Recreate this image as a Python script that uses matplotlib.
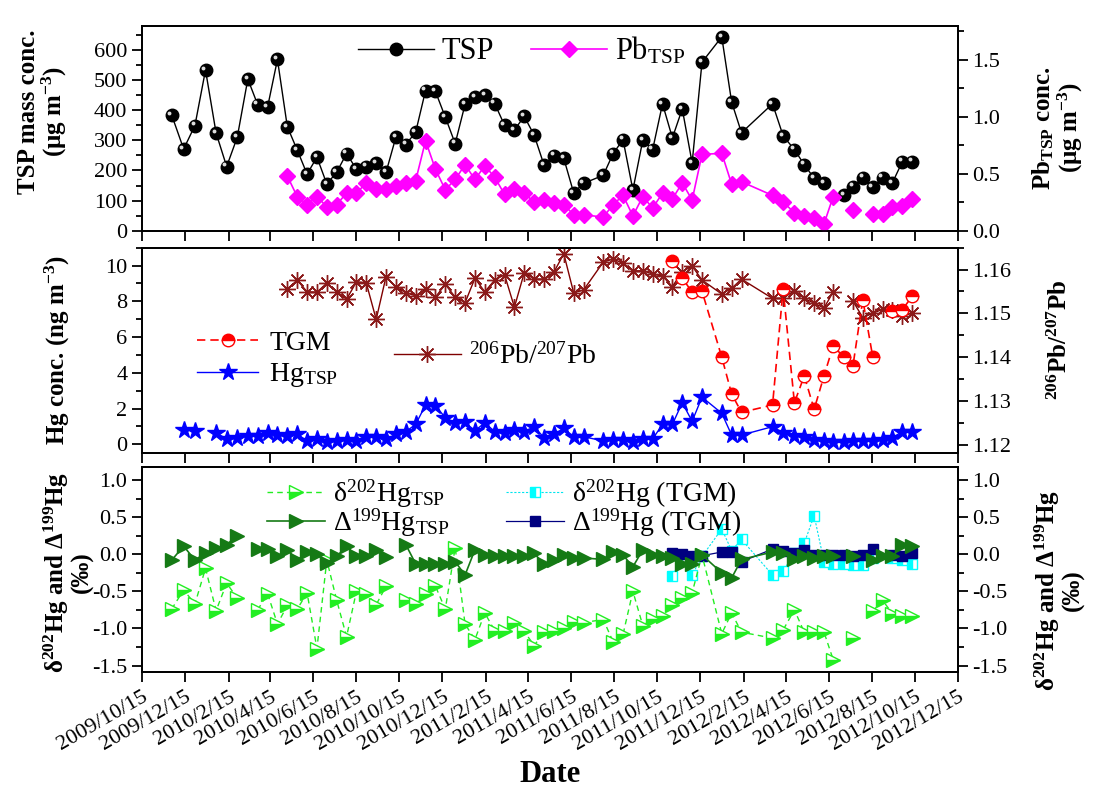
import matplotlib
matplotlib.use('Agg')
import matplotlib.pyplot as plt
import matplotlib.dates as mdates
from matplotlib.ticker import MultipleLocator, FormatStrFormatter, FuncFormatter
from matplotlib.transforms import ScaledTranslation
import numpy as np
import pandas as pd

nan = np.nan

# TSP sampling dates (all TSP-based series share them)
sample_dates = ['2009-11-26', '2009-12-13', '2009-12-29', '2010-01-13', '2010-01-28', '2010-02-12', '2010-02-27',
                '2010-03-14', '2010-03-28', '2010-04-11', '2010-04-25', '2010-05-09', '2010-05-23', '2010-06-06',
                '2010-06-20', '2010-07-04', '2010-07-18', '2010-08-01', '2010-08-15', '2010-08-29', '2010-09-12',
                '2010-09-26', '2010-10-10', '2010-10-24', '2010-11-07', '2010-11-21', '2010-12-05', '2010-12-19',
                '2011-01-02', '2011-01-16', '2011-01-30', '2011-02-13', '2011-02-27', '2011-03-13', '2011-03-27',
                '2011-04-10', '2011-04-24', '2011-05-08', '2011-05-22', '2011-06-05', '2011-06-19', '2011-07-03',
                '2011-07-31', '2011-08-14', '2011-08-28', '2011-09-11', '2011-09-25', '2011-10-09', '2011-10-23',
                '2011-11-06', '2011-11-20', '2011-12-04', '2011-12-18', '2012-01-15', '2012-01-29', '2012-02-12',
                '2012-03-27', '2012-04-11', '2012-04-27', '2012-05-11', '2012-05-25', '2012-06-08', '2012-06-21',
                '2012-07-06', '2012-07-19', '2012-08-02', '2012-08-16', '2012-08-30', '2012-09-13', '2012-09-27',
                '2012-10-11']

tsp = [384, 271, 349, 533, 324, 213, 310, 503, 418, 410,
       568, 345, 268, 188, 244, 155, 194, 256, 204, 213,
       224, 194, 311, 286, 327, 465, 462, 377, 289, 419,
       444, 449, 422, 350, 335, 379, 317, 218, 249, 240,
       126, 157, 184, 256, 302, 135, 300, 269, 421, 308,
       404, 225, 559, 643, 427, 325, 421, 315, 269, 219,
       174, 158, nan, 117, 146, 176, 144, 176, 159, 229,
       229]

pb_tsp = [nan, nan, nan, nan, nan, nan, nan, nan, nan, nan,
          nan, 0.48, 0.30, 0.23, 0.30, 0.21, 0.23, 0.33, 0.33, 0.42,
          0.37, 0.37, 0.39, 0.42, 0.44, 0.79, 0.54, 0.36, 0.45, 0.58,
          0.45, 0.57, 0.47, 0.32, 0.37, 0.33, 0.25, 0.27, 0.24, 0.23,
          0.14, 0.14, 0.12, 0.23, 0.31, 0.13, 0.30, 0.20, 0.33, 0.28,
          0.42, 0.27, 0.67, 0.68, 0.41, 0.43, 0.31, 0.25, 0.16, 0.13,
          0.11, 0.06, 0.30, nan, 0.18, nan, 0.15, 0.15, 0.21, 0.22,
          0.28]

hg_tsp = [nan, 0.80, 0.76, nan, 0.65, 0.30, 0.37, 0.47, 0.47, 0.65,
          0.52, 0.48, 0.58, 0.19, 0.28, 0.11, 0.19, 0.24, 0.19, 0.43,
          0.39, 0.30, 0.56, 0.71, 1.12, 2.20, 2.17, 1.49, 1.21, 1.23,
          0.76, 1.21, 0.71, 0.62, 0.80, 0.71, 0.99, 0.37, 0.56, 0.90,
          0.43, 0.43, 0.19, 0.24, 0.24, 0.15, 0.30, 0.30, 1.12, 1.12,
          2.33, 1.29, 2.64, 1.74, 0.52, 0.52, 0.99, 0.65, 0.47, 0.43,
          0.24, 0.19, 0.11, 0.11, 0.19, 0.20, 0.20, 0.24, 0.37, 0.71,
          0.67]

pb_ratio = [nan, nan, nan, nan, nan, nan, nan, nan, nan, nan,
            nan, 1.1555, 1.1576, 1.1549, 1.1548, 1.1569, 1.1549, 1.1532, 1.1572, 1.1569,
            1.1486, 1.1584, 1.1560, 1.1547, 1.1540, 1.1555, 1.1537, 1.1566, 1.1537, 1.1524,
            1.1580, 1.1549, 1.1576, 1.1588, 1.1514, 1.1593, 1.1578, 1.1578, 1.1594, 1.1636,
            1.1547, 1.1553, 1.1617, 1.1624, 1.1614, 1.1597, 1.1597, 1.1590, 1.1585, 1.1561,
            1.1595, 1.1608, 1.1576, 1.1544, 1.1557, 1.1578, 1.1534, 1.1534, 1.1552, 1.1534,
            1.1523, 1.1512, 1.1549, nan, 1.1528, 1.1490, 1.1500, 1.1509, 1.1508, 1.1494,
            1.1500]

d202_tsp = [-0.74, -0.48, -0.67, -0.19, -0.76, -0.39, -0.59, nan, -0.75, -0.53,
            -0.94, -0.69, -0.74, -0.52, -1.27, -0.08, -0.62, -1.11, -0.50, -0.53,
            -0.68, -0.43, nan, -0.61, -0.67, -0.54, -0.43, -0.74, 0.09, -0.94,
            -1.15, -0.79, -1.03, -1.03, -0.93, -1.04, -1.23, -1.05, -1.04, -1.00,
            -0.91, -0.92, -0.88, -1.18, -1.08, -0.50, -0.96, -0.87, -0.83, -0.68,
            -0.59, -0.52, -0.01, -1.07, -0.79, -1.05, -1.13, -1.02, -0.75, -1.05,
            -1.05, -1.05, -1.42, nan, -1.13, nan, -0.77, -0.62, -0.80, -0.83,
            -0.83]

d199_tsp = [-0.08, 0.11, -0.08, 0.02, 0.08, 0.13, 0.25, nan, 0.07, 0.07,
            -0.03, 0.06, -0.08, 0.03, 0.00, -0.12, -0.03, 0.11, -0.03, -0.03,
            0.06, -0.04, nan, 0.13, -0.13, -0.13, -0.13, -0.13, -0.10, -0.28,
            0.06, -0.01, -0.03, -0.03, -0.03, -0.03, 0.01, -0.13, -0.08, -0.01,
            -0.05, -0.05, -0.07, 0.03, -0.01, -0.17, 0.06, -0.01, -0.03, -0.05,
            -0.13, -0.13, -0.01, -0.25, -0.32, -0.07, 0.03, 0.01, -0.07, -0.03,
            -0.05, -0.03, -0.03, nan, -0.03, nan, -0.08, -0.03, -0.03, 0.13,
            0.11]

# TGM sampling
tgm_dates = ['2011-11-06', '2011-11-20', '2011-12-04', '2011-12-18', '2012-01-15', '2012-01-29', '2012-02-12',
             '2012-03-27', '2012-04-11', '2012-04-27', '2012-05-11', '2012-05-25', '2012-06-08', '2012-06-21',
             '2012-07-06', '2012-07-19', '2012-08-02', '2012-08-16', '2012-08-30', '2012-09-13', '2012-09-27',
             '2012-10-11']
tgm = [10.28, 9.31, 8.50, 8.56, 4.88, 2.82, 1.79, 2.20, 8.69, 2.33, 3.83,
       1.96, 3.83, 5.51, 4.88, 4.39, 8.09, 4.91, nan, 7.48, 7.53, 8.28]
d202_tgm = [-0.29, -0.05, -0.28, -0.03, 0.34, 0.05, 0.20, -0.28, -0.23, 0.02, 0.15,
            0.52, -0.10, -0.13, -0.13, -0.14, -0.14, -0.05, nan, -0.05, -0.08, -0.13]
d199_tgm = [0.01, 0.00, -0.03, -0.02, 0.03, 0.03, -0.10, 0.07, 0.05, 0.01, 0.06,
            -0.01, -0.01, -0.01, -0.01, -0.03, -0.01, 0.07, nan, -0.01, -0.03, 0.01]

plt.rcParams['font.family'] = ['Liberation Serif', 'DejaVu Serif']
plt.rcParams['mathtext.fontset'] = 'custom'
plt.rcParams['mathtext.rm'] = 'Liberation Serif'
plt.rcParams['mathtext.it'] = 'Liberation Serif:italic'
plt.rcParams['mathtext.bf'] = 'Liberation Serif:bold'
plt.rcParams['mathtext.default'] = 'regular'
plt.rcParams['axes.linewidth'] = 1.3

xs = mdates.date2num(pd.to_datetime(sample_dates).to_pydatetime())
xt = mdates.date2num(pd.to_datetime(tgm_dates).to_pydatetime())

fig = plt.figure(figsize=(10.96, 7.94), dpi=100)
L, W = 0.1296, 0.7445
ax1 = fig.add_axes([L, 0.7094, W, 0.2582])
ax2 = fig.add_axes([L, 0.4291, W, 0.2590], sharex=ax1)
ax3 = fig.add_axes([L, 0.1533, W, 0.2590], sharex=ax1)
ax1r = ax1.twinx()
ax2r = ax2.twinx()
ax3r = ax3.twinx()

# ---- top: TSP and Pb
l_tsp, = ax1.plot(xs, tsp, '-', color='black', lw=1.0, marker='o', ms=9, mfc='black', mec='black')
hl = ax1.transData + ScaledTranslation(-1.6 / 72, 1.6 / 72, fig.dpi_scale_trans)
ax1.plot(xs, tsp, ls='none', marker='o', ms=2.8, mfc='#dddddd', mec='none', transform=hl)
l_pb, = ax1r.plot(xs, pb_tsp, '-', color='#FF00FF', lw=1.2, marker='D', ms=8, mfc='#FF00FF', mec='#FF00FF')
ax1.set_ylim(0, 680)
ax1.yaxis.set_major_locator(MultipleLocator(100))
ax1.yaxis.set_minor_locator(MultipleLocator(50))
ax1r.set_ylim(0, 1.8)
ax1r.yaxis.set_major_locator(MultipleLocator(0.5))
ax1r.yaxis.set_minor_locator(MultipleLocator(0.25))
ax1r.yaxis.set_major_formatter(FormatStrFormatter('%.1f'))
ax1.legend([l_tsp, l_pb], ['TSP', 'Pb$_{TSP}$'], loc='upper center', bbox_to_anchor=(0.465, 1.09),
           ncol=2, frameon=False, fontsize=22, handlelength=2.5, columnspacing=1.2, handletextpad=0.25)

# ---- middle: Hg concentrations and Pb isotope ratio
l_hg, = ax2.plot(xs, hg_tsp, '-', color='#0000FF', lw=1.0, marker='*', ms=13, mfc='#0000FF', mec='#0000FF')
l_ratio, = ax2r.plot(xs, pb_ratio, '-', color='#7F0000', lw=1.0, marker=(8, 2, 0), ms=12, mec='#8B1A1A', mew=1.0)
ax2.set_zorder(ax2r.get_zorder() + 1)
ax2.patch.set_visible(False)
l_tgm, = ax2.plot(xt, tgm, '--', color='#FF0000', lw=1.2, dashes=(5, 3), marker='o', ms=9,
                  fillstyle='top', mfc='#FF0000', markerfacecoloralt='white', mec='#FF0000', mew=1.0)
ax2.set_ylim(-0.5, 11)
ax2.yaxis.set_major_locator(MultipleLocator(2))
ax2.yaxis.set_minor_locator(MultipleLocator(1))
ax2r.set_ylim(1.118, 1.165)
ax2r.yaxis.set_major_locator(MultipleLocator(0.01))
ax2r.yaxis.set_minor_locator(MultipleLocator(0.005))
ax2r.yaxis.set_major_formatter(FormatStrFormatter('%.2f'))
leg2 = ax2.legend([l_tgm, l_hg], ['TGM', 'Hg$_{TSP}$'], loc='upper left', bbox_to_anchor=(0.037, 0.72),
                  frameon=False, fontsize=20, handlelength=2.2, handletextpad=0.4, labelspacing=0.2)
ax2.add_artist(leg2)
ax2.legend([l_ratio], ['$^{206}$Pb/$^{207}$Pb'], loc='center left', bbox_to_anchor=(0.278, 0.47),
           frameon=False, fontsize=20, handlelength=2.4, handletextpad=0.3)

# ---- bottom: isotopes
l_dtgm, = ax3.plot(xt, d202_tgm, '--', color='#00E5EE', lw=0.8, dashes=(2, 1.5), marker='s', ms=6.5,
                   fillstyle='left', mfc='#00FFFF', markerfacecoloralt='white', mec='#00FFFF', mew=1.0)
l_Dtgm, = ax3.plot(xt, d199_tgm, '-', color='#000080', lw=0.9, marker='s', ms=6.5, mfc='#000080', mec='#000080')
l_dtsp, = ax3.plot(xs, d202_tsp, '--', color='#22EE22', lw=1.0, dashes=(4, 3), marker='>', ms=10,
                   fillstyle='bottom', mfc='#22EE22', markerfacecoloralt='white', mec='#22EE22', mew=1.0)
l_Dtsp, = ax3.plot(xs, d199_tsp, '-', color='#157A15', lw=1.2, marker='>', ms=10, mfc='#157A15', mec='#157A15')
ax3.set_ylim(-1.59, 1.18)
for a in (ax3, ax3r):
    a.yaxis.set_major_locator(MultipleLocator(0.5))
    a.yaxis.set_minor_locator(MultipleLocator(0.25))
    a.yaxis.set_major_formatter(FormatStrFormatter('%.1f'))
ax3r.set_ylim(-1.59, 1.18)
ax3.legend([l_dtsp, l_Dtsp, l_dtgm, l_Dtgm],
           ['δ$^{202}$Hg$_{TSP}$', 'Δ$^{199}$Hg$_{TSP}$', 'δ$^{202}$Hg (TGM)', 'Δ$^{199}$Hg (TGM)'],
           loc='upper left', bbox_to_anchor=(0.122, 1.07), ncol=2, frameon=False, fontsize=20,
           handlelength=2.1, handletextpad=0.3, labelspacing=-0.1, columnspacing=2.0)

# ---- x axis
ax1.set_xlim(mdates.date2num(pd.Timestamp('2009-10-15')), mdates.date2num(pd.Timestamp('2012-12-15')))
ax3.xaxis.set_major_locator(mdates.MonthLocator(bymonth=(2, 4, 6, 8, 10, 12), bymonthday=15))
ax3.xaxis.set_major_formatter(FuncFormatter(
    lambda v, p: '{0.year}/{0.month}/{0.day}'.format(mdates.num2date(v))))
for lab in ax3.get_xticklabels():
    lab.set_rotation(30)
    lab.set_ha('right')
    lab.set_rotation_mode('anchor')

for a in (ax1, ax2, ax3):
    a.tick_params(axis='both', which='major', direction='out', length=7, width=1.3, labelsize=16,
                  top=False, right=False)
    a.tick_params(axis='y', which='minor', direction='out', length=4, width=1.3, right=False)
    a.tick_params(axis='x', which='minor', bottom=False)
for a in (ax1, ax2):
    a.tick_params(axis='x', labelbottom=False)
ax3.tick_params(axis='x', labelsize=16, pad=4)
for a in (ax1r, ax2r, ax3r):
    a.tick_params(axis='y', which='major', direction='out', length=7, width=1.3, labelsize=16)
    a.tick_params(axis='y', which='minor', direction='out', length=4, width=1.3)

# ---- axis titles
def ftext(xp, yp, s):
    fig.text(xp / 1096, 1 - yp / 794, s, rotation=90, ha='center', va='center', fontsize=18,
             fontweight='bold', multialignment='center', linespacing=1.0)

ftext(43, 112, 'TSP mass conc.\n(μg m$^{-3}$)')
ftext(1058, 128, 'Pb$_{TSP}$ conc.\n(μg m$^{-3}$)')
ftext(57, 350, 'Hg conc. (ng m$^{-3}$)')
ftext(1060, 340, '$^{206}$Pb/$^{207}$Pb')
ftext(68, 572, 'δ$^{202}$Hg and Δ$^{199}$Hg\n(‰)')
ftext(1059, 590, 'δ$^{202}$Hg and Δ$^{199}$Hg\n(‰)')
fig.text(550 / 1096, 1 - 775 / 794, 'Date', ha='center', va='center', fontsize=22, fontweight='bold')

fig.savefig('out.png', dpi=100)
